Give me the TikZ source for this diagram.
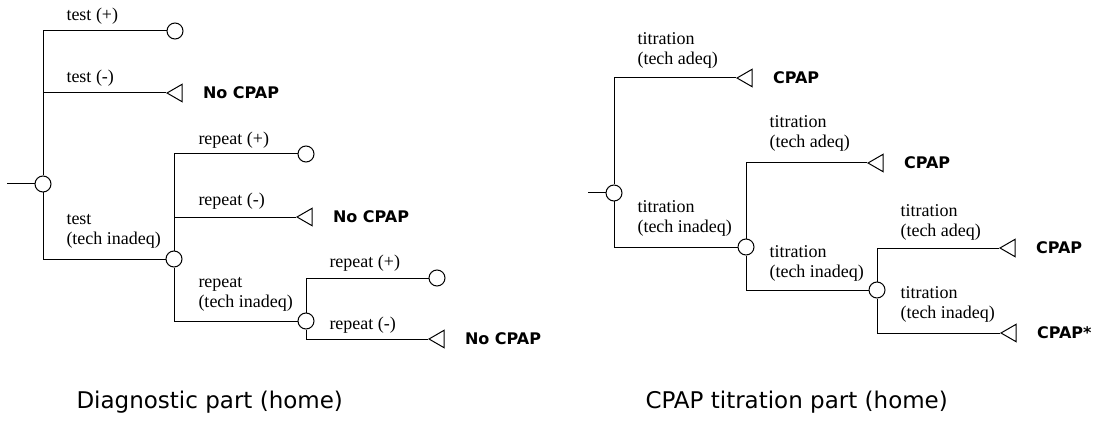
\documentclass[tikz,border=0pt]{standalone}
\usepackage{fontspec}
\usepackage{tikz}
\usetikzlibrary{shapes,positioning}
\newfontfamily\labelfont{Liberation Serif}
\newfontfamily\outfont{DejaVu Sans}

\begin{document}
\begin{tikzpicture}[x=1pt, y=-1pt, line width=1pt,
    chance/.style={circle, draw, fill=white, inner sep=0pt, minimum size=16pt},
    leaf/.style={regular polygon, regular polygon sides=3, shape border rotate=90, draw, fill=white, inner sep=0pt, minimum size=20pt},
    branch/.style={anchor=south west, inner sep=0pt, align=left, font=\labelfont\fontsize{18}{20}\selectfont},
    outcome/.style={inner sep=0pt, font=\outfont\bfseries\fontsize{16}{18}\selectfont},
    caption/.style={anchor=base west, inner sep=0pt, font=\outfont\fontsize{23}{26}\selectfont}]

    \fill[white] (0,0) rectangle (1105,422);
    \useasboundingbox (0,0) rectangle (1105,422);

    % Diagnostic part: chance nodes
    \coordinate (s1) at (7,184);
    \node[chance] (c1) at (43,184) {};
    \node[chance] (c2) at (174,259) {};
    \node[chance] (c3) at (306,321) {};

    % Diagnostic part: end nodes
    \node[chance] (e1) at (175,31) {};
    \node[leaf] (t1) at (177,93) {};
    \node[chance] (e2) at (306,154) {};
    \node[leaf] (t2) at (307,217) {};
    \node[chance] (e3) at (437,278) {};
    \node[leaf] (t3) at (439,339) {};

    \node[outcome, right=20pt of t1] (o1) {No CPAP};
    \node[outcome, right=20pt of t2] (o2) {No CPAP};
    \node[outcome, right=20pt of t3] (o3) {No CPAP};

    % Diagnostic part: branches
    \draw (s1) -- (c1);
    \draw (c1) |- (e1);
    \draw (c1) |- (t1);
    \draw (c1) |- (c2);
    \draw (c2) |- (e2);
    \draw (c2) |- (t2);
    \draw (c2) |- (c3);
    \draw (c3) |- (e3);
    \draw (c3) |- (t3);

    \node[branch] (b1) at (66,25) {test (+)};
    \node[branch] (b2) at (66,87) {test (-)};
    \node[branch] (b3) at (66,249) {test\\(tech inadeq)};
    \node[branch] (b4) at (198,149) {repeat (+)};
    \node[branch] (b5) at (198,210) {repeat (-)};
    \node[branch] (b6) at (198,312) {repeat\\(tech inadeq)};
    \node[branch] (b7) at (329,272) {repeat (+)};
    \node[branch] (b8) at (329,334) {repeat (-)};

    % CPAP titration part: chance nodes
    \coordinate (s2) at (588,193);
    \node[chance] (c4) at (614,193) {};
    \node[chance] (c5) at (746,247) {};
    \node[chance] (c6) at (877,290) {};

    % CPAP titration part: end nodes
    \node[leaf] (t4) at (747,78) {};
    \node[leaf] (t5) at (878,163) {};
    \node[leaf] (t6) at (1010,248) {};
    \node[leaf] (t7) at (1011,333) {};

    \node[outcome, right=20pt of t4] (o4) {CPAP};
    \node[outcome, right=20pt of t5] (o5) {CPAP};
    \node[outcome, right=20pt of t6] (o6) {CPAP};
    \node[outcome, right=20pt of t7] (o7) {CPAP*};

    % CPAP titration part: branches
    \draw (s2) -- (c4);
    \draw (c4) |- (t4);
    \draw (c4) |- (c5);
    \draw (c5) |- (t5);
    \draw (c5) |- (c6);
    \draw (c6) |- (t6);
    \draw (c6) |- (t7);

    \node[branch] (b9) at (637,69) {titration\\(tech adeq)};
    \node[branch] (b10) at (637,237) {titration\\(tech inadeq)};
    \node[branch] (b11) at (769,152) {titration\\(tech adeq)};
    \node[branch] (b12) at (769,282) {titration\\(tech inadeq)};
    \node[branch] (b13) at (900,241) {titration\\(tech adeq)};
    \node[branch] (b14) at (900,323) {titration\\(tech inadeq)};

    % Captions
    \node[caption] (cap1) at (76,408) {Diagnostic part (home)};
    \node[caption] (cap2) at (645,408) {CPAP titration part (home)};

\end{tikzpicture}
\end{document}
